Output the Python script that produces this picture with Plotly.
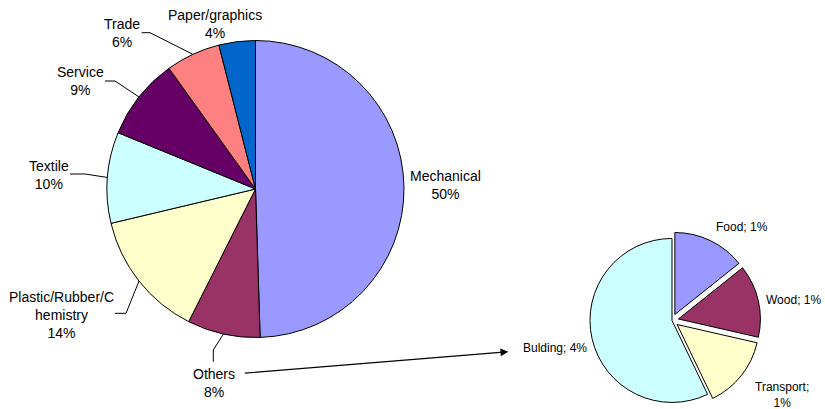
import math
import plotly.graph_objects as go

W, H = 825, 409

# ---------------- data ----------------
main_labels = ["Mechanical", "Others", "Plastic/Rubber/C<br>hemistry", "Textile",
               "Service", "Trade", "Paper/graphics"]
main_values = [50, 8, 14, 10, 9, 6, 4]
main_colors = ["#9999FF", "#993366", "#FFFFCC", "#CCFFFF", "#660066", "#FF8080", "#0066CC"]

sub_labels = ["Food", "Wood", "Transport", "Bulding"]
sub_values = [1, 1, 1, 4]
sub_colors = ["#9999FF", "#993366", "#FFFFCC", "#CCFFFF"]
sub_pull = [0.08, 0.08, 0.08, 0]

# ---------------- layout geometry (px) ----------------
MAIN_C = (255.5, 189.0)
MAIN_R = 148.5
SUB_CX = 672.0
SUB_R = 82.0
SUB_HALF = SUB_R * (1 + max(sub_pull))

main_label_pos = {
    "Mechanical": (445, 185),
    "Others": (214, 383),
    "Plastic/Rubber/C<br>hemistry": (61, 315),
    "Textile": (49, 174.7),
    "Service": (80, 80.7),
    "Trade": (121.7, 33),
    "Paper/graphics": (214.5, 24),
}
# leader lines: label-side start point and elbow point (px)
main_leaders = {
    "Others": ((213.3, 361.7), (213.3, 350)),
    "Plastic/Rubber/C<br>hemistry": ((115, 313.3), (126, 313.3)),
    "Textile": ((70, 174), (85, 174)),
    "Service": ((105, 81), (115, 81)),
    "Trade": ((141.7, 32.7), (150, 32.7)),
}
sub_label_pos = {
    "Food": (741.7, 227.3),
    "Wood": (793, 300),
    "Transport": (781.7, 394.7),
    "Bulding": (555, 348.3),
}
sub_wrap = {"Transport"}

FONT = "Liberation Sans, Arial, sans-serif"


def px_x(x):
    return x / W


def px_y(y):
    return 1 - y / H


fig = go.Figure()
fig.add_trace(go.Pie(
    labels=main_labels, values=main_values, sort=False, direction="clockwise",
    rotation=0, textinfo="none", hoverinfo="skip",
    marker=dict(colors=main_colors, line=dict(color="#000000", width=1)),
    domain=dict(x=[px_x(MAIN_C[0] - MAIN_R), px_x(MAIN_C[0] + MAIN_R)],
                y=[(H - MAIN_C[1] - MAIN_R) / H, (H - MAIN_C[1] + MAIN_R) / H]),
))
fig.add_trace(go.Pie(
    labels=sub_labels, values=sub_values, sort=False, direction="clockwise",
    rotation=0, textinfo="none", hoverinfo="skip", pull=sub_pull,
    marker=dict(colors=sub_colors, line=dict(color="#000000", width=1)),
    domain=dict(x=[px_x(SUB_CX - SUB_HALF), px_x(SUB_CX + SUB_HALF)],
                y=[0, 2 * SUB_HALF / H]),
))

annotations = []
shapes = []
total = sum(main_values)
cum = 0
for lab, v in zip(main_labels, main_values):
    mid = (cum + v / 2) / total * 2 * math.pi
    cum += v
    x, y = main_label_pos[lab]
    annotations.append(dict(
        x=px_x(x), y=px_y(y), xref="paper", yref="paper", showarrow=False,
        text=f"{lab}<br>{v}%", xanchor="center", yanchor="middle", align="center",
        font=dict(family=FONT, size=14, color="#000000")))
    if lab in main_leaders:
        (sx, sy), (ex, ey) = main_leaders[lab]
        ax = MAIN_C[0] + MAIN_R * math.sin(mid)
        ay = MAIN_C[1] - MAIN_R * math.cos(mid)
        path = (f"M {px_x(sx)} {px_y(sy)} L {px_x(ex)} {px_y(ey)} "
                f"L {px_x(ax)} {px_y(ay)}")
        shapes.append(dict(type="path", xref="paper", yref="paper", path=path,
                           line=dict(color="#000000", width=1)))

for lab, v in zip(sub_labels, sub_values):
    x, y = sub_label_pos[lab]
    sep = ";<br>" if lab in sub_wrap else "; "
    annotations.append(dict(
        x=px_x(x), y=px_y(y), xref="paper", yref="paper", showarrow=False,
        text=f"{lab}{sep}{v}%", xanchor="center", yanchor="middle", align="center",
        font=dict(family=FONT, size=12, color="#000000")))

# arrow from "Others" to the sub pie
annotations.append(dict(
    x=px_x(508.3), y=px_y(351.7), xref="paper", yref="paper",
    ax=-265, ay=21.6, text="", showarrow=True, arrowhead=2, arrowsize=1.3,
    arrowwidth=1.2, arrowcolor="#000000", standoff=0))

fig.update_layout(
    width=W, height=H, margin=dict(l=0, r=0, t=0, b=0),
    paper_bgcolor="#FFFFFF", plot_bgcolor="#FFFFFF", showlegend=False,
    annotations=annotations, shapes=shapes,
)

fig.write_html(
    "out.html",
    config={"displayModeBar": False},
    post_script="document.body.style.margin='0';document.body.style.overflow='hidden';",
)
